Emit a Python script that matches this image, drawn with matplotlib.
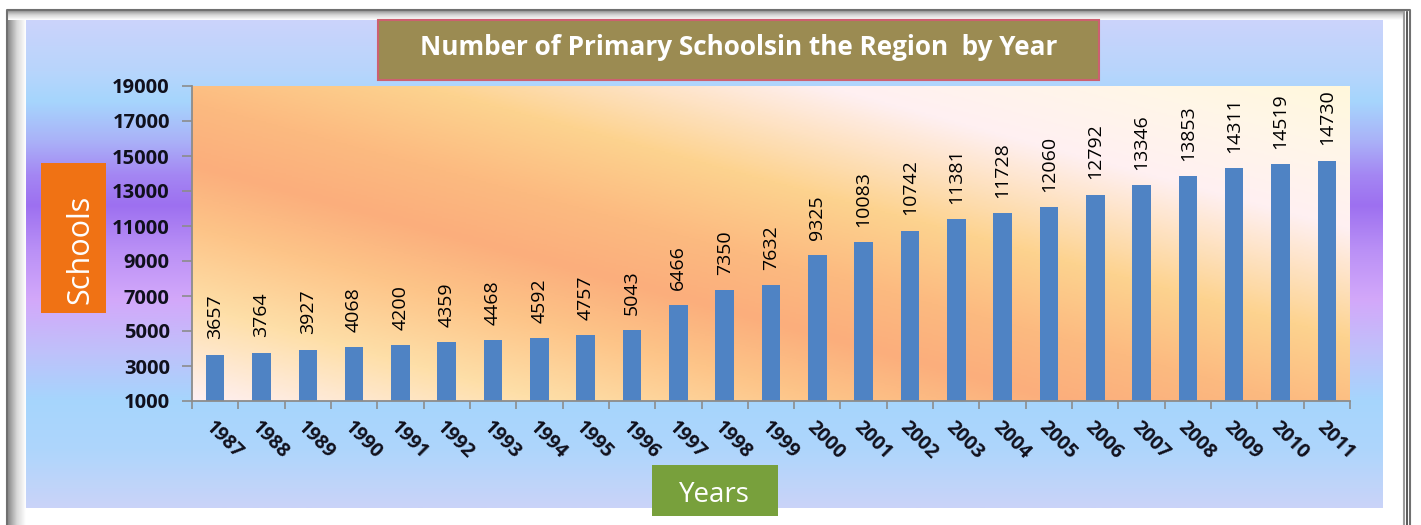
import numpy as np
import matplotlib
matplotlib.use('Agg')
import matplotlib.pyplot as plt
from matplotlib.colors import LinearSegmentedColormap
from matplotlib.patches import Rectangle

# ---------------- data ----------------
years = ["1987", "1988", "1989", "1990", "1991", "1992", "1993", "1994", "1995",
         "1996", "1997", "1998", "1999", "2000", "2001", "2002", "2003", "2004",
         "2005", "2006", "2007", "2008", "2009", "2010", "2011"]
schools = [3657, 3764, 3927, 4068, 4200, 4359, 4468, 4592, 4757, 5043, 6466, 7350,
           7632, 9325, 10083, 10742, 11381, 11728, 12060, 12792, 13346, 13853,
           14311, 14519, 14730]
y_ticks = [1000, 3000, 5000, 7000, 9000, 11000, 13000, 15000, 17000, 19000]
title_text = "Number of Primary Schoolsin the Region  by Year"
y_title = "Schools"
x_title = "Years"

FONT = ['Open Sans', 'DejaVu Sans']
plt.rcParams['font.family'] = FONT

W, H = 1421, 525
fig = plt.figure(figsize=(W / 100, H / 100), dpi=100)
fig.patch.set_facecolor('white')

# ---------------- background / frame ----------------
bg = fig.add_axes([0, 0, 1, 1], zorder=0)
bg.set_xlim(0, W)
bg.set_ylim(H, 0)
bg.axis('off')

# bevel-like frame
gray_h = LinearSegmentedColormap.from_list('gh', ['#8a8a8a', '#d8d8d8', '#ffffff'])
bg.imshow(np.linspace(0, 1, 64)[None, :], extent=(8, 26, H, 10), cmap=gray_h,
          aspect='auto', zorder=1)
bg.imshow(np.linspace(0, 1, 64)[:, None], extent=(8, 1404, 20, 10), cmap=gray_h,
          aspect='auto', zorder=1, origin='upper')
bg.plot([7, 7, 1410, 1410], [H, 9.5, 9.5, H], color='#707070', lw=1.5, zorder=3)
bg.plot([1404, 1404], [12, H], color='#9a9a9a', lw=1.5, zorder=3)
bg.plot([1407, 1407], [12, H], color='#3c3c3c', lw=1.2, zorder=3)

# panel gradient (vertical)
stops = [(20, '#cbd3fb'), (70, '#b8d5fc'), (100, '#a6d6fd'), (140, '#aab2f8'),
         (175, '#a486f3'), (205, '#9d70f0'), (250, '#ba90f6'), (300, '#d3a8fa'),
         (350, '#c0c0fa'), (400, '#a6d5fd'), (450, '#aed6fc'), (508, '#cad3f8')]
pos = [(s[0] - 20) / (508 - 20) for s in stops]
panel_cm = LinearSegmentedColormap.from_list('panel', list(zip(pos, [s[1] for s in stops])))
bg.imshow(np.linspace(0, 1, 256)[:, None], extent=(26, 1383, 508, 20), cmap=panel_cm,
          aspect='auto', origin='upper', zorder=2)

# title box
bg.add_patch(Rectangle((378, 20), 721, 60, fc='#9b8b52', ec='#cc6070', lw=1.5, zorder=4))
bg.text(738.5, 55, title_text, color='white', fontsize=18.8, fontweight='bold',
        ha='center', va='baseline', zorder=5)
# y title box
bg.add_patch(Rectangle((41, 163), 65, 150, fc='#f07214', ec='none', zorder=4))
bg.text(88, 249, y_title, color='white', fontsize=22, rotation=90,
        rotation_mode='anchor', ha='center', va='baseline', zorder=5)
# x title box
bg.add_patch(Rectangle((652, 465), 126, 51, fc='#78a03c', ec='none', zorder=4))
bg.text(714.5, 502, x_title, color='white', fontsize=20,
        ha='center', va='baseline', zorder=5)

# ---------------- main axes ----------------
ax = fig.add_axes([192 / W, 1 - 401 / H, 1158 / W, 315 / H], zorder=1)
ax.set_facecolor('none')

plot_stops = [(0.00, '#fff0f2'), (0.30, '#fedfa8'), (0.55, '#fdc488'), (0.75, '#fbae7c'),
              (0.95, '#fcba80'), (1.20, '#fdd38f'), (1.55, '#fff0f2'), (1.80, '#fff6e8'),
              (2.00, '#fff8dc')]
plot_cm = LinearSegmentedColormap.from_list(
    'plot', [(p / 2.0, c) for p, c in plot_stops])
uu, vv = np.meshgrid(np.linspace(0, 1, 400), np.linspace(0, 1, 200))
ax.imshow((uu + vv) / 2.0, extent=(0, 1, 0, 1), transform=ax.transAxes, cmap=plot_cm,
          vmin=0, vmax=1, aspect='auto', origin='lower', zorder=0,
          interpolation='bilinear')

x = np.arange(len(years))
ax.bar(x, schools, width=0.40, color='#4f83c4', zorder=2)

for xi, v in zip(x, schools):
    ax.annotate(str(v), xy=(xi, v), xytext=(0, 11), textcoords='offset points',
                rotation=90, ha='center', va='bottom', fontsize=14,
                fontweight='medium', color='#000000', zorder=3)

ax.set_xlim(-0.5, len(years) - 0.5)
ax.set_ylim(1000, 19000)
ax.set_yticks(y_ticks)
ax.set_yticklabels([str(t) for t in y_ticks])
ax.set_xticks(x)
ax.set_xticklabels(years)
ax.set_xticks(np.arange(len(years) + 1) - 0.5, minor=True)

for s in ['top', 'right']:
    ax.spines[s].set_visible(False)
for s in ['left', 'bottom']:
    ax.spines[s].set_color('#8c8c8c')
    ax.spines[s].set_linewidth(1.3)

ax.tick_params(axis='y', direction='out', length=7, width=1.2, color='#8c8c8c',
               pad=9, labelsize=14.5, labelcolor='#10101c')
ax.tick_params(axis='x', which='major', length=0, pad=12, labelsize=14,
               labelcolor='#10101c')
ax.tick_params(axis='x', which='minor', length=6, width=1.2, color='#8c8c8c')
for lab in ax.get_yticklabels():
    lab.set_fontweight('bold')
for lab in ax.get_xticklabels():
    lab.set_fontweight('bold')
    lab.set_rotation(-45)
    lab.set_ha('left')
    lab.set_va('top')
    lab.set_rotation_mode('anchor')

fig.savefig('out.png', dpi=100)
